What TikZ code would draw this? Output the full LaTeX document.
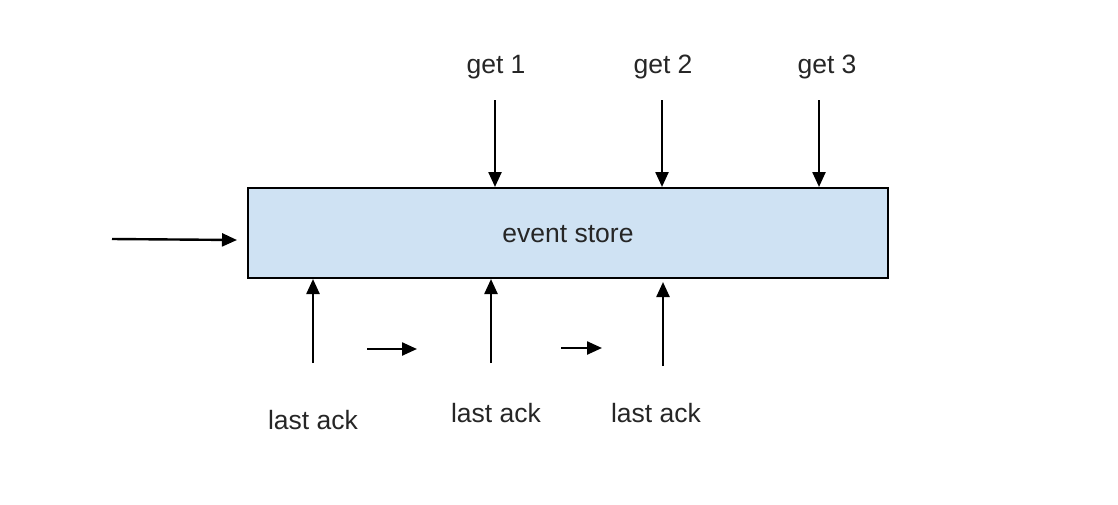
\documentclass[tikz,border=0pt]{standalone}
\usepackage{fontspec}
\setmainfont{Liberation Sans}
\usetikzlibrary{arrows.meta}
\definecolor{storefill}{HTML}{CFE2F3}
\begin{document}
\begin{tikzpicture}[x=1pt,y=-1pt,
  lbl/.style={font=\fontsize{26.5}{30}\selectfont, text=black!85, inner sep=0pt},
  arr/.style={line width=2.4pt, -{Triangle[length=15pt,width=13pt]}},
  pt/.style={inner sep=0pt, minimum size=0pt}]
\useasboundingbox (0,0) rectangle (1118,504);
\node[draw, line width=2.4pt, fill=storefill, minimum width=640pt, minimum height=90pt, inner sep=0pt, anchor=north west] (store) at (247,187) {};
\node[lbl] (storelbl) at (568,234) {event store};
% top labels
\node[lbl] (g1) at (496,67) {get 1};
\node[lbl] (g2) at (663,67) {get 2};
\node[lbl] (g3) at (827,67) {get 3};
\coordinate (g1s) at (495,100);
\coordinate (g2s) at (662,100);
\coordinate (g3s) at (819,100);
\draw[arr] (g1s) -- (g1s |- store.north);
\draw[arr] (g2s) -- (g2s |- store.north);
\draw[arr] (g3s) -- (g3s |- store.north);
% left input
\coordinate (ins) at (112,239);
\coordinate (ine) at (237,240);
\draw[arr] (ins) -- (ine);
% bottom arrows
\coordinate (b1s) at (313,363);
\coordinate (b2s) at (491,363);
\coordinate (b3s) at (663,366);
\coordinate (b1e) at (313,279);
\coordinate (b2e) at (491,279);
\coordinate (b3e) at (663,282);
\draw[arr] (b1s) -- (b1e);
\draw[arr] (b2s) -- (b2e);
\draw[arr] (b3s) -- (b3e);
% small arrows
\coordinate (s1s) at (367,349);
\coordinate (s1e) at (417,349);
\coordinate (s2s) at (561,348);
\coordinate (s2e) at (602,348);
\draw[arr] (s1s) -- (s1e);
\draw[arr] (s2s) -- (s2e);
% bottom labels
\node[lbl] (l1) at (313,420) {last ack};
\node[lbl] (l2) at (496,413) {last ack};
\node[lbl] (l3) at (656,413) {last ack};
\end{tikzpicture}
\end{document}
